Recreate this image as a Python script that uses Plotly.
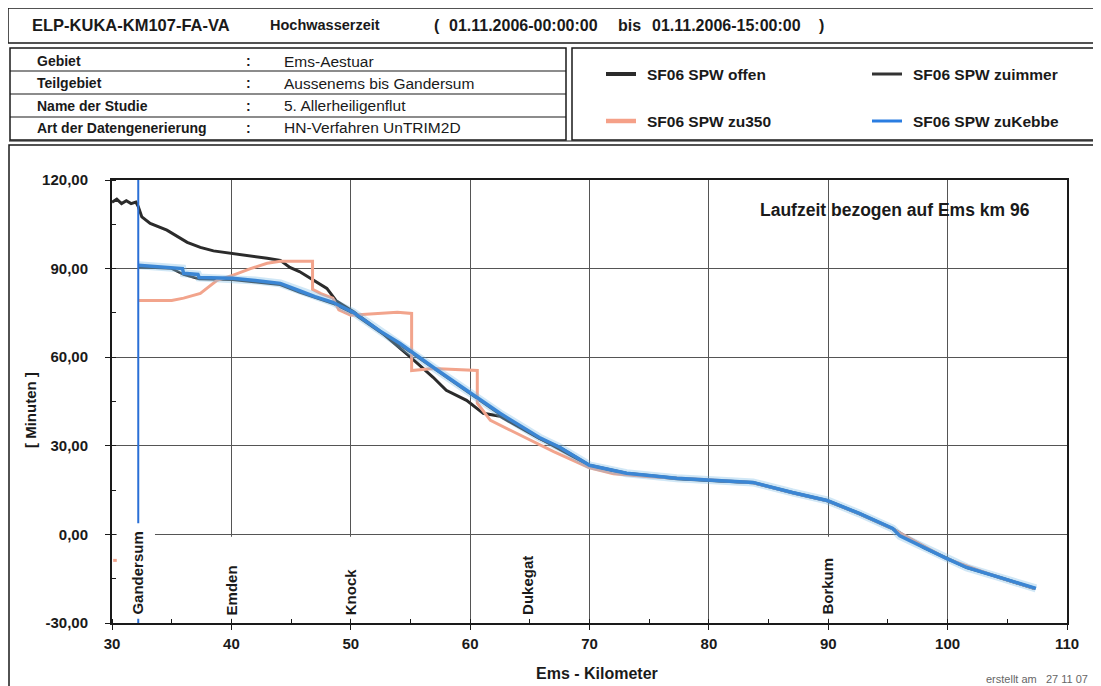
import plotly.graph_objects as go

# --- data (km -> minutes) ---
offen_km = [30.0, 30.4, 30.8, 31.2, 31.6, 32.0, 32.2, 32.5, 33.2, 34.6, 36.3, 37.4, 38.5, 40.0, 41.5,
            43.0, 44.1, 44.9, 45.7, 46.6, 48.0, 48.8, 50.2, 52.4, 54.1, 55.0, 56.9, 58.0, 59.7,
            61.1, 62.5, 65.8, 67.5, 70.0, 73.1, 77.3, 80.1, 83.7, 87.0, 89.9, 92.6, 95.4, 98.0,
            99.9, 101.6, 104.4, 107.3]
offen_min = [112.5, 113.5, 112.0, 113.0, 112.0, 112.5, 111.0, 107.5, 105.3, 103.0, 98.9, 97.2, 96.0,
             95.2, 94.5, 93.5, 92.8, 90.4, 89.0, 86.7, 83.3, 79.0, 75.5, 69.0, 63.3, 60.0, 53.2,
             48.8, 45.4, 41.0, 40.0, 32.5, 29.5, 23.4, 20.7, 19.0, 18.3, 17.6, 14.2, 11.5, 7.1,
             2.0, -4.5, -8.1, -11.2, -14.6, -18.3]

zuimmer_km = [32.2, 35.0, 36.0, 37.3, 40.1, 44.1, 45.7, 48.5, 50.2, 52.4, 54.1, 56.9, 59.7, 62.5,
              65.8, 70.0, 73.1, 77.3, 80.1, 83.7, 87.0, 89.9, 92.6, 95.4, 99.9, 104.4, 107.3]
zuimmer_min = [90.5, 90.0, 88.0, 86.5, 86.2, 84.5, 82.0, 78.2, 74.8, 68.6, 64.2, 56.2, 48.5, 40.6,
               32.5, 23.2, 20.5, 18.8, 18.1, 17.4, 14.0, 11.3, 6.9, 1.8, -8.3, -14.8, -18.4]

zu350_km = [30.1, 30.6, None, 32.2, 35.0, 36.0, 37.4, 38.8, 40.1, 41.6, 43.0, 44.1, 46.8, 46.8, 47.5,
            48.5, 49.0, 50.0, 51.0, 53.9, 55.1, 55.1, 56.9, 60.3, 60.6, 60.6, 61.7, 63.5, 65.3,
            67.0, 70.0, 72.0, 75.0, 80.0, 83.7, 87.0, 89.9, 92.6, 95.4, 99.9, 104.4, 107.3]
zu350_min = [-8.8, -8.8, None, 79.2, 79.2, 80.0, 81.6, 86.0, 87.7, 90.0, 91.8, 92.5, 92.5, 83.0, 81.5,
             80.0, 76.0, 74.2, 74.5, 75.2, 74.8, 55.5, 56.2, 55.5, 55.5, 44.4, 38.6, 35.0, 31.5,
             28.0, 22.5, 20.5, 19.5, 18.5, 17.5, 14.1, 11.4, 7.0, 1.9, -8.2, -14.7, -18.3]

kebbe_km = [32.2, 33.5, 35.0, 35.9, 36.0, 37.2, 37.3, 40.1, 42.0, 44.1, 45.7, 47.0, 48.5, 50.2, 52.4,
            54.1, 56.9, 59.7, 62.5, 65.8, 67.5, 70.0, 73.1, 77.3, 80.1, 83.7, 87.0, 89.9, 92.6,
            95.4, 96.0, 98.0, 99.9, 101.6, 104.4, 107.1, 107.4]
kebbe_min = [91.1, 90.8, 90.5, 90.0, 88.4, 88.0, 87.0, 86.7, 86.0, 85.0, 82.5, 80.5, 78.6, 75.2, 69.0,
             64.7, 56.6, 48.8, 41.0, 32.8, 29.5, 23.4, 20.7, 19.0, 18.3, 17.6, 14.2, 11.5, 7.1,
             2.0, -0.5, -4.5, -8.1, -11.2, -14.6, -17.9, -18.3]

# vertical marker at Gandersum
marker_km = [32.2, 32.2]
marker_min = [120, -30]

places = ["Gandersum", "Emden", "Knock", "Dukegat", "Borkum"]
places_km = [32.1, 40.0, 50.0, 64.8, 89.9]

y_ticks = [-30, 0, 30, 60, 90, 120]
y_tick_text = ["-30,00", "0,00", "30,00", "60,00", "90,00", "120,00"]

series_names = ["SF06 SPW offen", "SF06 SPW zuimmer", "SF06 SPW zu350", "SF06 SPW zuKebbe"]
series_colors = ["#2b2b2b", "#333333", "#f2a48c", "#3b86d4"]

info_labels = ["Gebiet", "Teilgebiet", "Name der Studie", "Art der Datengenerierung"]
info_values = ["Ems-Aestuar", "Aussenems bis Gandersum", "5. Allerheiligenflut", "HN-Verfahren UnTRIM2D"]

FONT = "Liberation Sans, Arial, sans-serif"
W, H = 1101, 686
OFF = 8  # page body margin
PL, PR, PT, PB = 112, 1067, 180, 623  # plot area in screen pixels


def px_x(p):
    return (p - PL) / (PR - PL)


def px_y(p):
    return (PB - p) / (PB - PT)


fig = go.Figure()
fig.add_trace(go.Scatter(x=offen_km, y=offen_min, mode="lines", line=dict(color=series_colors[0], width=3),
                         showlegend=False, name=series_names[0]))
fig.add_trace(go.Scatter(x=zuimmer_km, y=zuimmer_min, mode="lines", line=dict(color=series_colors[1], width=2.5),
                         showlegend=False, name=series_names[1]))
fig.add_trace(go.Scatter(x=zu350_km, y=zu350_min, mode="lines", line=dict(color=series_colors[2], width=3),
                         showlegend=False, name=series_names[2], connectgaps=False))
# soft halo under the blue line (scan look)
fig.add_trace(go.Scatter(x=kebbe_km, y=kebbe_min, mode="lines", line=dict(color="rgba(120,185,230,0.35)", width=8),
                         showlegend=False, hoverinfo="skip"))
fig.add_trace(go.Scatter(x=kebbe_km, y=kebbe_min, mode="lines", line=dict(color=series_colors[3], width=3.5),
                         showlegend=False, name=series_names[3]))
fig.add_trace(go.Scatter(x=marker_km, y=marker_min, mode="lines", line=dict(color="#2a6fd6", width=2),
                         showlegend=False, hoverinfo="skip"))

shapes = []
line_k = dict(color="#1a1a1a", width=1.5)
# header box
shapes.append(dict(type="rect", xref="paper", yref="paper", x0=px_x(8), x1=px_x(1115), y0=px_y(8), y1=px_y(43),
                   line=line_k))
# info table
shapes.append(dict(type="rect", xref="paper", yref="paper", x0=px_x(10), x1=px_x(566), y0=px_y(48), y1=px_y(140),
                   line=line_k))
for yy in [71, 94, 117]:
    shapes.append(dict(type="line", xref="paper", yref="paper", x0=px_x(10), x1=px_x(566), y0=px_y(yy), y1=px_y(yy),
                       line=dict(color="#1a1a1a", width=1.2)))
# legend box
shapes.append(dict(type="rect", xref="paper", yref="paper", x0=px_x(572), x1=px_x(1097), y0=px_y(48), y1=px_y(140),
                   line=line_k))
# main chart box (double top line)
shapes.append(dict(type="rect", xref="paper", yref="paper", x0=px_x(9), x1=px_x(1115), y0=px_y(145), y1=px_y(710),
                   line=line_k))
shapes.append(dict(type="line", xref="paper", yref="paper", x0=px_x(9), x1=px_x(1115), y0=px_y(141), y1=px_y(141),
                   line=dict(color="#1a1a1a", width=1.2)))

# legend samples
leg_pos = [(606, 74), (872, 74), (606, 121), (872, 121)]
leg_w = [4, 3, 4.5, 3]
leg_cols = ["#2b2b2b", "#333333", "#f5a088", "#2a7de1"]
for (lx, ly), col, lw in zip(leg_pos, leg_cols, leg_w):
    shapes.append(dict(type="line", xref="paper", yref="paper", x0=px_x(lx), x1=px_x(lx + 30),
                       y0=px_y(ly), y1=px_y(ly), line=dict(color=col, width=lw)))

# white boxes behind the place labels
for name, km in zip(places, places_km):
    if name == "Gandersum":
        shapes.append(dict(type="rect", xref="x", yref="y", x0=30.4, x1=33.6, y0=-28.6, y1=3.8,
                           fillcolor="white", line=dict(width=0), layer="above"))
    else:
        shapes.append(dict(type="rect", xref="x", yref="y", x0=km - 0.8, x1=km + 0.8, y0=-28.6, y1=-0.8,
                           fillcolor="white", line=dict(width=0), layer="above"))

ann = []


def text(x, y, s, size=15, bold=False, anchor="left", color="#1a1a1a", angle=0, yanchor="middle", xref="paper"):
    ann.append(dict(x=x, y=y, xref=xref, yref="paper", text=f"<b>{s}</b>" if bold else s, showarrow=False,
                    xanchor=anchor, yanchor=yanchor, textangle=angle,
                    font=dict(family=FONT, size=size, color=color)))


# header
text(px_x(30), px_y(25), "ELP-KUKA-KM107-FA-VA", size=16.5, bold=True)
text(px_x(268), px_y(25), "Hochwasserzeit", size=14.5, bold=True)
text(px_x(432), px_y(25), "(", size=16, bold=True)
text(px_x(447), px_y(25), "01.11.2006-00:00:00", size=16, bold=True)
text(px_x(616), px_y(25), "bis", size=16, bold=True)
text(px_x(650), px_y(25), "01.11.2006-15:00:00", size=16, bold=True)
text(px_x(817), px_y(25), ")", size=16, bold=True)

# info table
for i, (lab, val) in enumerate(zip(info_labels, info_values)):
    yy = px_y(61 + i * 22.3)
    text(px_x(35), yy, lab, size=14, bold=True)
    text(px_x(244), yy, ":", size=14, bold=True)
    text(px_x(282), yy, val, size=15.5)

# legend text
for (lx, ly), name in zip(leg_pos, series_names):
    text(px_x(lx + 39), px_y(ly), name, size=15.5, bold=True)

# in-plot label
text(px_x(1032), px_y(210), "Laufzeit bezogen auf Ems km 96", size=17.5, bold=True, anchor="right")

# place labels
for name, km in zip(places, places_km):
    text(km, px_y(617), name, size=15, bold=True, anchor="center", angle=-90, yanchor="bottom", xref="x")

# axis titles
text(px_x(30), px_y(410), "[ Minuten ]", size=15, bold=True, anchor="center", angle=-90)
text(px_x(597), px_y(673), "Ems - Kilometer", size=16, bold=True, anchor="center")
text(px_x(1090), px_y(679), "erstellt am \u00a0 27 11 07", size=11, color="#666666", anchor="right")

fig.update_layout(
    width=W,
    height=H,
    margin=dict(l=PL - OFF, r=W - (PR - OFF), t=PT - OFF, b=H - (PB - OFF)),
    paper_bgcolor="white",
    plot_bgcolor="white",
    showlegend=False,
    shapes=shapes,
    annotations=ann,
    font=dict(family=FONT, size=15, color="#1a1a1a"),
    xaxis=dict(
        range=[30, 110], dtick=10, tick0=30, showgrid=True, gridcolor="#555555", gridwidth=1,
        zeroline=False, showline=True, mirror=True, linecolor="#1a1a1a", linewidth=2,
        ticks="outside", ticklen=5, tickcolor="#1a1a1a", tickfont=dict(family=FONT, size=15, color="#1a1a1a"),
        tickprefix="<b>", ticksuffix="</b>", ticklabelstandoff=1,
        minor=dict(ticks="inside", dtick=5, ticklen=4, tickcolor="#1a1a1a", showgrid=False),
    ),
    yaxis=dict(
        range=[-30, 120], tickvals=y_ticks, ticktext=[f"<b>{t}</b>" for t in y_tick_text],
        showgrid=True, gridcolor="#555555", gridwidth=1,
        zeroline=False, showline=True, mirror=True, linecolor="#1a1a1a", linewidth=2,
        ticks="outside", ticklen=5, tickcolor="#1a1a1a",
        tickfont=dict(family=FONT, size=15, color="#1a1a1a"), ticklabelstandoff=14,
        minor=dict(ticks="inside", dtick=15, ticklen=4, tickcolor="#1a1a1a", showgrid=False),
    ),
)

fig.write_html("out.html")
